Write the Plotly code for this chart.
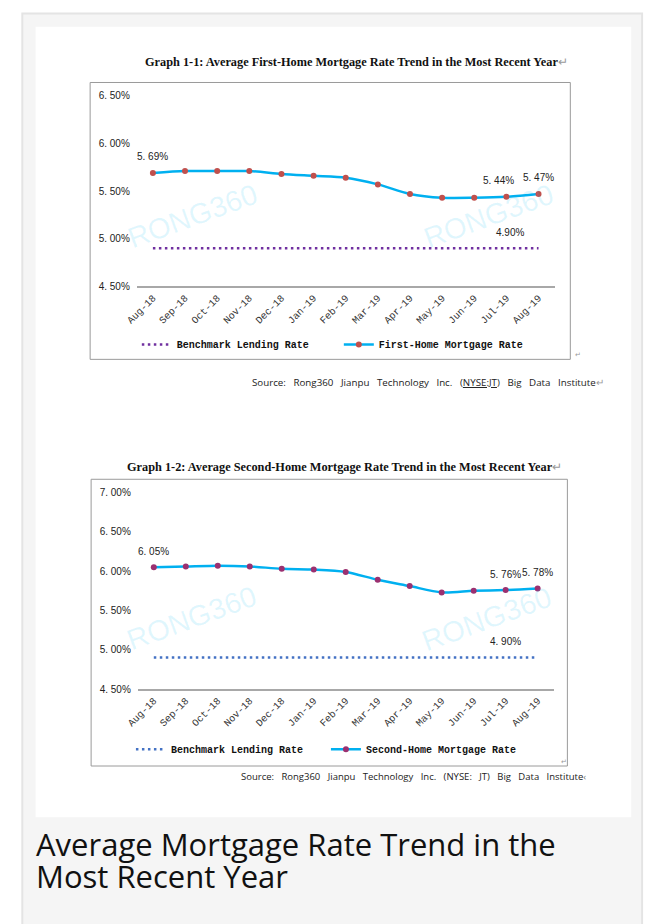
import plotly.graph_objects as go

# ---------------- data ----------------
months = ["Aug-18", "Sep-18", "Oct-18", "Nov-18", "Dec-18", "Jan-19", "Feb-19",
          "Mar-19", "Apr-19", "May-19", "Jun-19", "Jul-19", "Aug-19"]

first_home_rate = [5.69, 5.71, 5.71, 5.71, 5.68, 5.66, 5.64, 5.57, 5.47, 5.43, 5.43, 5.44, 5.47]
second_home_rate = [6.05, 6.06, 6.07, 6.06, 6.03, 6.02, 5.99, 5.89, 5.81, 5.73, 5.75, 5.76, 5.78]
benchmark_rate = [4.90, 4.90, 4.90, 4.90, 4.90, 4.90, 4.90, 4.90, 4.90, 4.90, 4.90, 4.90, 4.90]

y1_tickvals = [4.5, 5.0, 5.5, 6.0, 6.5]
y1_ticktext = ["4. 50%", "5. 00%", "5. 50%", "6. 00%", "6. 50%"]
y2_tickvals = [4.5, 5.0, 5.5, 6.0, 6.5, 7.0]
y2_ticktext = ["4. 50%", "5. 00%", "5. 50%", "6. 00%", "6. 50%", "7. 00%"]

# labelled points: (month, series value, text)
labels_1 = [("Aug-18", 5.69, "5. 69%"), ("Jul-19", 5.44, "5. 44%"), ("Aug-19", 5.47, "5. 47%"),
            ("Jul-19", 4.90, "4.90%")]
labels_2 = [("Aug-18", 6.05, "6. 05%"), ("Jul-19", 5.76, "5. 76%"), ("Aug-19", 5.78, "5. 78%"),
            ("Jul-19", 4.90, "4. 90%")]

title_1 = "Graph 1-1: Average First-Home Mortgage Rate Trend in the Most Recent Year"
title_2 = "Graph 1-2: Average Second-Home Mortgage Rate Trend in the Most Recent Year"
source_1 = "Source: Rong360 Jianpu Technology Inc. (<u>NYSE:JT</u>) Big Data Institute"
source_2 = "Source: Rong360 Jianpu Technology Inc. (NYSE: JT) Big Data Institute"
caption_lines = ["Average Mortgage Rate Trend in the", "Most Recent Year"]

# ---------------- geometry helpers ----------------
W, H = 647, 924


def px(x):
    return x / W


def py(y):
    return 1 - y / H


def justify(s):
    # mimic the wide (justified) word spacing of the source lines
    return s.replace(" ", "\u00a0\u00a0 ")


fig = go.Figure()

CYAN = "#00B0F0"
MONO = "Liberation Mono"

# chart 1 traces
fig.add_trace(go.Scatter(x=months, y=benchmark_rate, mode="lines", name="Benchmark Lending Rate",
                         line=dict(color="#7030A0", width=2.5, dash="2.5px,3.5px"),
                         xaxis="x", yaxis="y", legend="legend", hoverinfo="skip"))
fig.add_trace(go.Scatter(x=months, y=first_home_rate, mode="lines+markers", name="First-Home Mortgage Rate",
                         line=dict(color=CYAN, width=2.5, shape="spline", smoothing=0.8),
                         marker=dict(color="#C0504D", size=6),
                         xaxis="x", yaxis="y", legend="legend", hoverinfo="skip"))
# chart 2 traces
fig.add_trace(go.Scatter(x=months, y=benchmark_rate, mode="lines", name="Benchmark Lending Rate",
                         line=dict(color="#4472C4", width=2.5, dash="2.5px,3.5px"),
                         xaxis="x2", yaxis="y2", legend="legend2", hoverinfo="skip"))
fig.add_trace(go.Scatter(x=months, y=second_home_rate, mode="lines+markers", name="Second-Home Mortgage Rate",
                         line=dict(color=CYAN, width=2.5, shape="spline", smoothing=0.8),
                         marker=dict(color="#9B3070", size=6),
                         xaxis="x2", yaxis="y2", legend="legend2", hoverinfo="skip"))

shapes = [
    # outer card
    dict(type="rect", xref="paper", yref="paper", x0=px(11.5), x1=px(642), y0=py(7.5), y1=py(940),
         line=dict(color="#e4e4e4", width=2), fillcolor="#f5f5f5", layer="below"),
    # white image area
    dict(type="rect", xref="paper", yref="paper", x0=px(25), x1=px(631), y0=py(21), y1=py(822),
         line=dict(width=0), fillcolor="#ffffff", layer="below"),
    # chart boxes
    dict(type="rect", xref="paper", yref="paper", x0=px(80.5), x1=px(569), y0=py(77.5), y1=py(358),
         line=dict(color="#9a9a9a", width=1), fillcolor="rgba(0,0,0,0)", layer="below"),
    dict(type="rect", xref="paper", yref="paper", x0=px(81.5), x1=px(566), y0=py(479.5), y1=py(770),
         line=dict(color="#9a9a9a", width=1), fillcolor="rgba(0,0,0,0)", layer="below"),
]

annotations = []
RET = "<span style='color:#9a9a9a;font-weight:normal'>&#8629;</span>"


def add_text(text, x, y, size, family, color="#222", xanchor="left", weight="normal", angle=0):
    annotations.append(dict(text=text, x=px(x), y=py(y), xref="paper", yref="paper",
                            xanchor=xanchor, yanchor="middle", showarrow=False, textangle=angle,
                            font=dict(size=size, family=family, color=color, weight=weight)))


# titles
add_text(title_1 + RET, 134, 57, 12.3, "Liberation Serif", "#111", weight="bold")
add_text(title_2 + RET, 116, 467, 12.3, "Liberation Serif", "#111", weight="bold")
# sources
add_text(justify(source_1) + RET, 243, 381, 9.75, "Open Sans", "#222")
add_text(justify(source_2) + "<span style='color:#777'>&#8249;</span>", 232, 781, 9.5, "Open Sans", "#222")
# return marks next to chart boxes
add_text("&#8629;", 572, 354, 7, "DejaVu Sans", "#9a9a9a")
add_text("&#8629;", 557, 766, 7, "DejaVu Sans", "#9a9a9a")
# caption
add_text(caption_lines[0], 23, 849, 31, "Open Sans", "#111")
add_text(caption_lines[1], 23, 881, 31, "Open Sans", "#111")

# watermarks
WM = "rgba(0,190,240,0.12)"
for (x, y) in [(185, 213), (486, 213), (184, 620), (484, 621)]:
    add_text("RONG360", x, y, 29, "Liberation Sans", WM, xanchor="center", angle=-20)

# data labels (label offsets as placed by the original chart)
label_xshift = {("x", "Jul-19", 5.44): -8, ("x", "Jul-19", 4.90): 4}
for lbls, xr, yr in [(labels_1, "x", "y"), (labels_2, "x2", "y2")]:
    for (m, v, t) in lbls:
        annotations.append(dict(text=t, x=m, y=v, xref=xr, yref=yr, showarrow=False,
                                yshift=16, xshift=label_xshift.get((xr, m, v), 0),
                                xanchor="center", yanchor="middle",
                                font=dict(size=10, family="Liberation Sans", color="#222")))

axis_common = dict(showgrid=False, zeroline=False, fixedrange=True)
xcommon = dict(type="category", categoryorder="array", categoryarray=months, range=[-0.5, 12.5],
               showline=True, linecolor="#a8a8a8", linewidth=2, ticks="", tickangle=-45,
               tickfont=dict(family=MONO, size=10, color="#333"), **axis_common)
ycommon = dict(showline=False, ticks="", ticklabelstandoff=6,
               tickfont=dict(family="Liberation Sans", size=10, color="#222"), **axis_common)

legend_common = dict(orientation="h", xanchor="left", yanchor="middle", bgcolor="rgba(0,0,0,0)",
                     font=dict(family=MONO, size=10, color="#111", weight="bold"),
                     itemclick=False, itemdoubleclick=False, tracegroupgap=0,
                     entrywidthmode="pixels")

fig.update_layout(
    width=W, height=H, autosize=False,
    margin=dict(l=0, r=0, t=0, b=0),
    paper_bgcolor="#ffffff", plot_bgcolor="rgba(0,0,0,0)",
    showlegend=True,
    xaxis=dict(domain=[px(128), px(553)], anchor="y", **xcommon),
    yaxis=dict(domain=[py(284), py(91)], range=[4.5, 6.5], tickvals=y1_tickvals, ticktext=y1_ticktext,
               anchor="x", **ycommon),
    xaxis2=dict(domain=[px(129), px(552)], anchor="y2", **xcommon),
    yaxis2=dict(domain=[py(692), py(493)], range=[4.5, 7.0], tickvals=y2_tickvals, ticktext=y2_ticktext,
                anchor="x2", **ycommon),
    legend=dict(x=px(128), y=py(343), entrywidth=157, **legend_common),
    legend2=dict(x=px(122), y=py(753), entrywidth=150, **legend_common),
    shapes=shapes,
    annotations=annotations,
)

fig.write_html("out.html", config={"displayModeBar": False, "staticPlot": True},
               post_script="document.body.style.margin='0px';document.body.style.overflow='hidden';")
